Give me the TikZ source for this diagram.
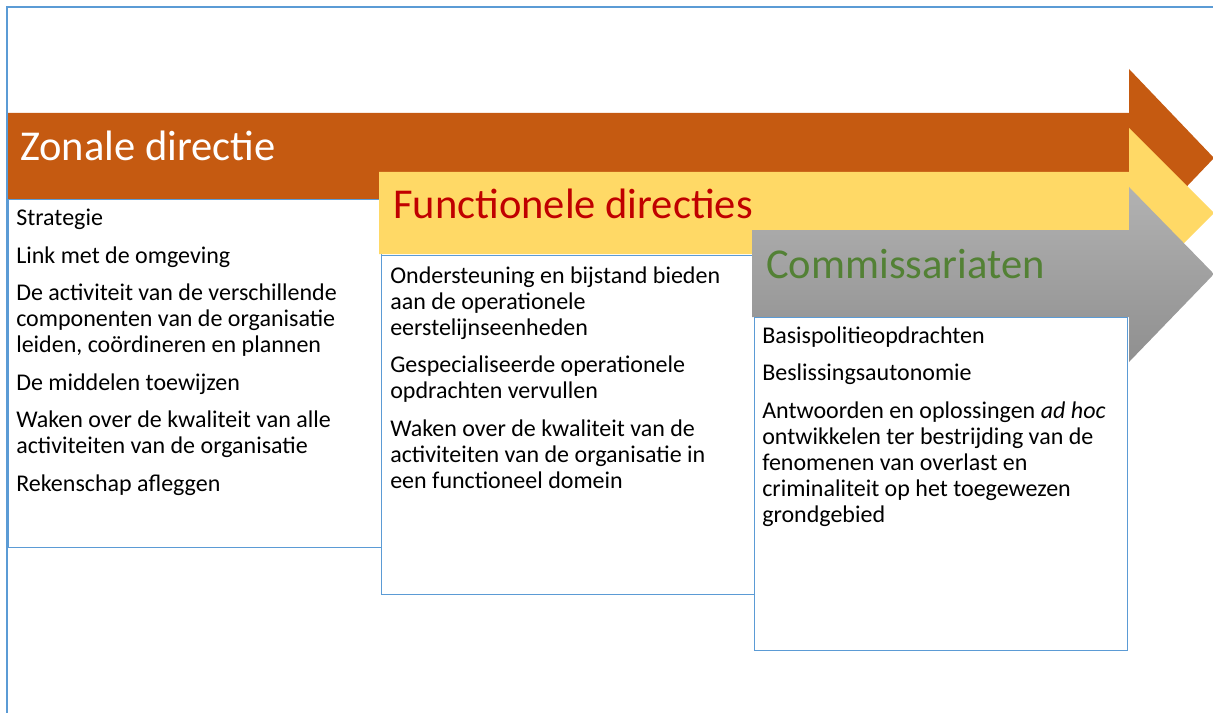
\documentclass[tikz,border=0pt]{standalone}
\usepackage{fontspec}
\setmainfont{Carlito}
\definecolor{zonal}{HTML}{C55A11}
\definecolor{functional}{HTML}{FFD966}
\definecolor{darkred}{HTML}{C00000}
\definecolor{darkgreen}{HTML}{538135}
\definecolor{lightgrey}{HTML}{B2B2B2}
\definecolor{darkgrey}{HTML}{8F8F8F}
\definecolor{frameblue}{HTML}{5B9BD5}
\begin{document}
\begin{tikzpicture}[x=0.75pt, y=-0.75pt,
	box/.style = {draw=frameblue, line width=0.75pt, fill=white},
	items/.style = {anchor=base west, inner sep=0pt, align=left, font=\fontsize{18}{19.5}\selectfont},
	heading/.style = {anchor=base west, inner sep=0pt, font=\fontsize{31.9}{36}\selectfont}]
	\useasboundingbox (0,0) rectangle (1213,713);
	\fill[zonal] (7,113) -- (1129,113) -- (1129,69) -- (1214,158) -- (1129,247) -- (1129,199) -- (7,199) -- cycle;
	\draw[box] (8,199) rectangle (381,547);
	\fill[functional] (379,172) -- (1129,172) -- (1129,128) -- (1214,213) -- (1129,298) -- (1129,254) -- (379,254) -- cycle;
	\draw[box] (381,255) rectangle (754,594);
	\shade[top color=lightgrey, bottom color=darkgrey] (752,230) -- (1129,230) -- (1129,187) -- (1214,274) -- (1129,362) -- (1129,317) -- (752,317) -- cycle;
	\draw[box] (754,317) rectangle (1127,650);
	\draw[frameblue, line width=1.5pt] (7,713) -- (7,7) -- (1213,7);
	\node[heading, white] (zonal) at (20,161) {Zonale directie};
	\node[heading, darkred] (functional) at (393,219) {Functionele directies};
	\node[heading, darkgreen] (local) at (766,278) {Commissariaten};
	\node[items] (zonaltasks) at (16,491) {Strategie\\[8.6pt]
		Link met de omgeving\\[8.6pt]
		De activiteit van de verschillende\\
		componenten van de organisatie\\
		leiden, coördineren en plannen\\[8.6pt]
		De middelen toewijzen\\[8.6pt]
		Waken over de kwaliteit van alle\\
		activiteiten van de organisatie\\[8.6pt]
		Rekenschap afleggen};
	\node[items] (functionaltasks) at (390,488) {Ondersteuning en bijstand bieden\\
		aan de operationele\\
		eerstelijnseenheden\\[8.6pt]
		Gespecialiseerde operationele\\
		opdrachten vervullen\\[8.6pt]
		Waken over de kwaliteit van de\\
		activiteiten van de organisatie in\\
		een functioneel domein};
	\node[items] (localtasks) at (762,522) {Basispolitieopdrachten\\[8.6pt]
		Beslissingsautonomie\\[8.6pt]
		Antwoorden en oplossingen \textit{ad hoc}\\
		ontwikkelen ter bestrijding van de\\
		fenomenen van overlast en\\
		criminaliteit op het toegewezen\\
		grondgebied};
\end{tikzpicture}
\end{document}
